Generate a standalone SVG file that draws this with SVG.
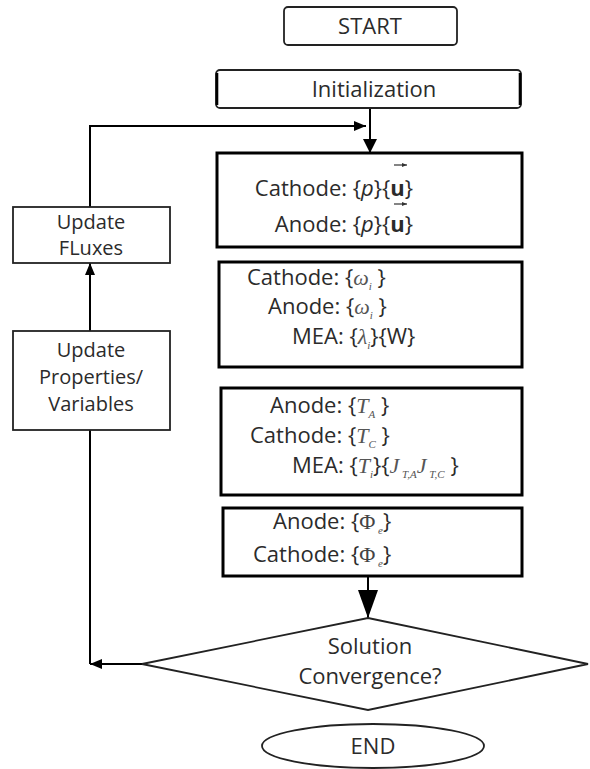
<svg xmlns="http://www.w3.org/2000/svg" width="590" height="769" viewBox="0 0 590 769">
<style>
text{font-family:"Open Sans","Noto Sans",sans-serif;font-size:22px;fill:#2b2b2b}
.c{text-anchor:middle}
.l{font-size:20px}
.m{font-family:"Liberation Serif",serif;font-style:italic;fill:#555}
.g{font-family:"Liberation Serif",serif;fill:#444}
.s{font-family:"Liberation Serif",serif;font-style:italic;font-size:11px;fill:#555}
.box{fill:#fff;stroke:#000;stroke-width:3}
.thin{fill:#fff;stroke:#222;stroke-width:1.8}
.ln{fill:none;stroke:#000;stroke-width:2}
</style>
<defs>
<marker id="a1" markerUnits="userSpaceOnUse" markerWidth="14" markerHeight="14" refX="14" refY="7" orient="auto"><path d="M0,0 L14,7 L0,14 z" fill="#000"/></marker>
<marker id="a2" markerUnits="userSpaceOnUse" markerWidth="12" markerHeight="10" refX="12" refY="5" orient="auto"><path d="M0,0 L12,5 L0,10 z" fill="#000"/></marker>
<marker id="a3" markerUnits="userSpaceOnUse" markerWidth="28" markerHeight="20" refX="28" refY="10" orient="auto"><path d="M0,0 L28,10 L0,20 z" fill="#000"/></marker>
<marker id="v" markerUnits="userSpaceOnUse" markerWidth="5" markerHeight="4" refX="5" refY="2" orient="auto"><path d="M0,0 L5,2 L0,4 z" fill="#333"/></marker>
</defs>
<g id="connectors">
<line class="ln" x1="370" y1="108" x2="370" y2="153" stroke-width="2.5" marker-end="url(#a1)"/>
<path class="ln" d="M90,207 V126 H366" marker-end="url(#a2)"/>
<line class="ln" x1="90" y1="331" x2="90" y2="263" marker-end="url(#a2)"/>
<line class="ln" x1="90" y1="430" x2="90" y2="664"/>
<line class="ln" x1="142" y1="664" x2="90" y2="664" marker-end="url(#a2)"/>
<line class="ln" x1="368" y1="576" x2="368" y2="618" stroke-width="3" marker-end="url(#a3)"/>
</g>
<g id="start">
<rect class="thin" x="284" y="7" width="173" height="38" rx="4"/>
<text class="c" x="370" y="34">START</text>
</g>
<g id="init">
<rect class="thin" x="216" y="70" width="305" height="38" rx="4"/>
<line x1="217" y1="73" x2="217" y2="105" stroke="#000" stroke-width="2.6"/>
<line x1="520" y1="73" x2="520" y2="105" stroke="#000" stroke-width="2.6"/>
<text class="c" x="374" y="97">Initialization</text>
</g>
<g id="box-velocity">
<rect class="box" x="217" y="153" width="305" height="94"/>
<text x="413" y="196" text-anchor="end">Cathode: {<tspan font-style="italic">p</tspan>}{<tspan font-weight="bold">u</tspan>}</text>
<text x="413" y="232" text-anchor="end">Anode: {<tspan font-style="italic">p</tspan>}{<tspan font-weight="bold">u</tspan>}</text>
<line x1="394" y1="165" x2="407" y2="165" stroke="#333" stroke-width="1.2" marker-end="url(#v)"/>
<line x1="394" y1="204" x2="407" y2="204" stroke="#333" stroke-width="1.2" marker-end="url(#v)"/>
</g>
<g id="box-species">
<rect class="box" x="219" y="262" width="303" height="105"/>
<text x="247" y="285">Cathode: {<tspan class="m">ω</tspan><tspan class="s" dy="5">i</tspan><tspan dy="-5"> }</tspan></text>
<text x="268" y="314">Anode: {<tspan class="m">ω</tspan><tspan class="s" dy="5">i</tspan><tspan dy="-5"> }</tspan></text>
<text x="292" y="344">MEA: {<tspan class="m">λ</tspan><tspan class="s" dy="5">i</tspan><tspan dy="-5">}{W}</tspan></text>
</g>
<g id="box-temperature">
<rect class="box" x="221" y="388" width="301" height="107"/>
<text x="270" y="413">Anode: {<tspan class="m">T</tspan><tspan class="s" dy="5">A</tspan><tspan dy="-5"> }</tspan></text>
<text x="250" y="443">Cathode: {<tspan class="m">T</tspan><tspan class="s" dy="5">C</tspan><tspan dy="-5"> }</tspan></text>
<text x="292" y="473">MEA: {<tspan class="m">T</tspan><tspan class="s" dy="5">i</tspan><tspan dy="-5">}{</tspan><tspan class="m">J</tspan><tspan class="s" dy="5"> T,A</tspan><tspan class="m" dy="-5">J</tspan><tspan class="s" dy="5"> T,C</tspan><tspan dy="-5"> }</tspan></text>
</g>
<g id="box-potential">
<rect class="box" x="223" y="508" width="299" height="68"/>
<text x="273" y="529">Anode: {<tspan class="g">Φ</tspan><tspan class="s" dy="5"> e</tspan><tspan dy="-5">}</tspan></text>
<text x="253" y="562">Cathode: {<tspan class="g">Φ</tspan><tspan class="s" dy="5"> e</tspan><tspan dy="-5">}</tspan></text>
</g>
<g id="update-fluxes">
<rect class="thin" x="13" y="207" width="157" height="56"/>
<text class="c l" x="91" y="229">Update</text>
<text class="c l" x="91" y="255">FLuxes</text>
</g>
<g id="update-properties">
<rect class="thin" x="13" y="331" width="157" height="99"/>
<text class="c l" x="91" y="357">Update</text>
<text class="c l" x="91" y="384">Properties/</text>
<text class="c l" x="91" y="411">Variables</text>
</g>
<g id="convergence">
<polygon class="thin" points="368,618 588,664 368,710 142,664"/>
<text class="c" x="370" y="654">Solution</text>
<text class="c" x="370" y="684">Convergence?</text>
</g>
<g id="end">
<ellipse class="thin" cx="373" cy="746" rx="111" ry="22"/>
<text class="c" x="373" y="754">END</text>
</g>
</svg>
